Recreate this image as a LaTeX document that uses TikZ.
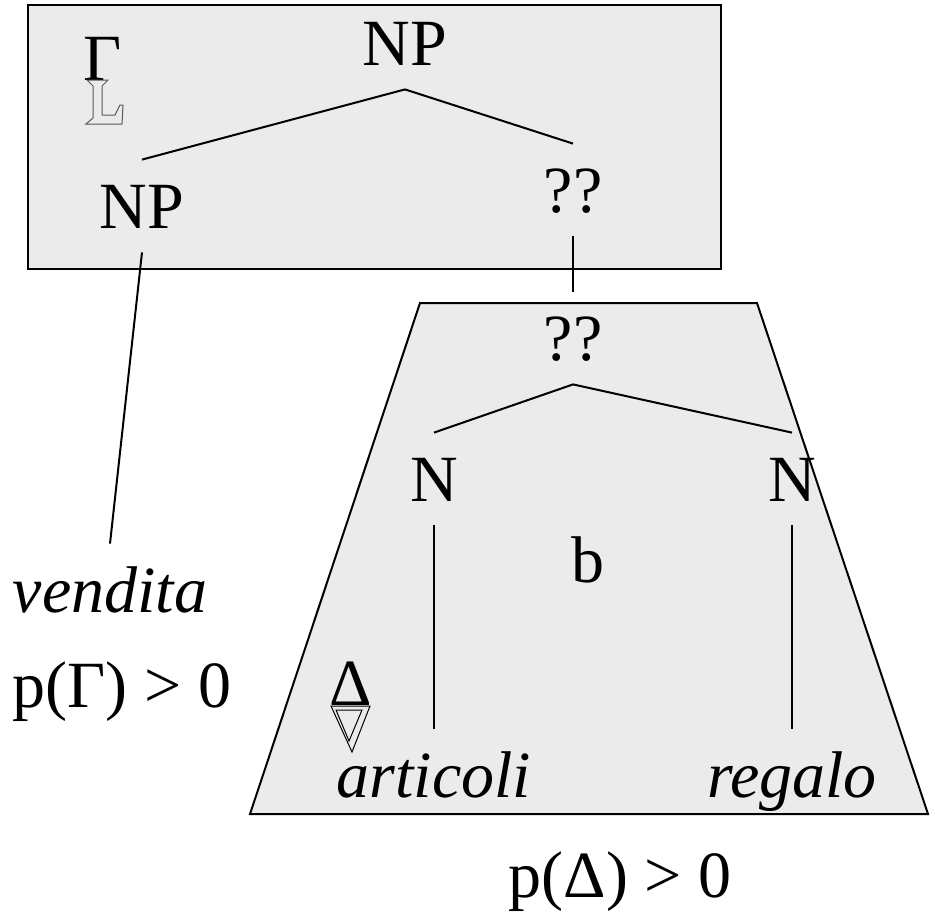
\documentclass[tikz,border=0pt]{standalone}
\usepackage{fontspec}
\setmainfont{Liberation Serif}
\usepackage{xcolor}
\definecolor{boxgray}{HTML}{EBEBEB}

\begin{document}
\begin{tikzpicture}[x=0.5pt, y=-0.5pt,
    lbl/.style={font=\fontsize{33}{40}\selectfont, inner xsep=0pt, inner ysep=12pt,
                text height=22pt, text depth=0pt},
    branch/.style={line width=1pt}]
  \useasboundingbox (0,0) rectangle (935,922);
  % the two fragments
  \draw[line width=1pt, fill=boxgray] (28,5) rectangle (721,269);
  \draw[line width=1pt, fill=boxgray] (420,303) -- (757,303) -- (928,814) -- (250,814) -- cycle;

  % upper tree
  \node[lbl] (npTop) at (405,43)  {NP};
  \node[lbl] (npL)   at (142,206) {NP};
  \node[lbl] (qqTop) at (573,190) {??};
  \draw[branch] (npTop.south) -- (npL.north);
  \draw[branch] (npTop.south) -- (qqTop.north);

  % lower tree
  \node[lbl] (qqLow) at (573,338) {??};
  \node[lbl] (nL)    at (434,479) {N};
  \node[lbl] (nR)    at (792,479) {N};
  \node[lbl] (bLbl)  at (588,560) {b};
  \node[lbl] (artic) at (434,775) {\itshape articoli};
  \node[lbl] (regalo) at (792,775) {\itshape regalo};
  \draw[branch] (qqTop.south) -- (qqLow.north);
  \draw[branch] (qqLow.south) -- (nL.north);
  \draw[branch] (qqLow.south) -- (nR.north);
  \draw[branch] (nL.south) -- (artic.north);
  \draw[branch] (nR.south) -- (regalo.north);

  % left side
  \node[lbl] (vend)   at (110,590) {\itshape vendita};
  \node[lbl] (pGamma) at (122,685) {p(Γ) > 0};
  \node[lbl] (pDelta) at (620,875) {p(Δ) > 0};
  \draw[branch] (npL.south) -- (vend.north);

  % fragment names with their mirror images
  \node[lbl] (gam) at (103,58)  {Γ};
  \draw[gray!70!black, line width=0.5pt]
    (87,80) -- (108,80) -- (102,86) -- (102,115) -- (115,115) -- (120,105) -- (123,105)
    -- (122,124) -- (86,124) -- (93,118) -- (93,86) -- cycle;
  \node[lbl] (del) at (351,683) {Δ};
  \draw[line width=0.5pt] (331,706) -- (370,706) -- (352,752) -- cycle;
  \draw[line width=0.5pt] (336,710) -- (362,710) -- (349,741) -- cycle;
\end{tikzpicture}
\end{document}
